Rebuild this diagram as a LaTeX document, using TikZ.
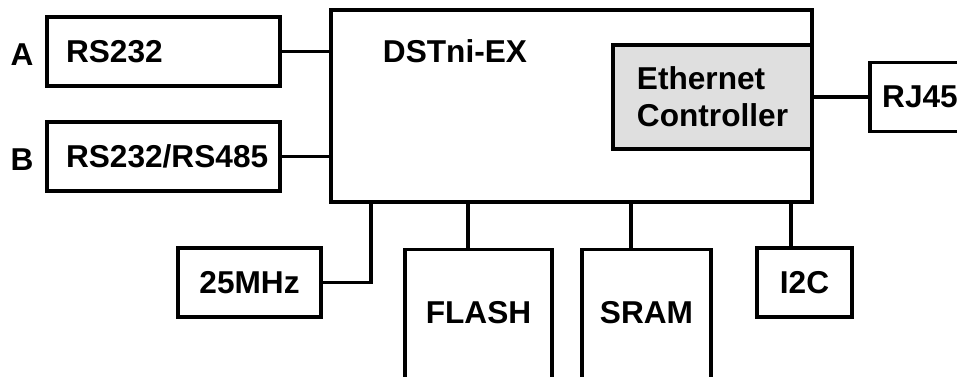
\documentclass[tikz,border=0pt]{standalone}
\usepackage{fontspec}
\setmainfont{Liberation Sans}
\usepackage{tikz}
\usetikzlibrary{positioning, calc}

\begin{document}
\begin{tikzpicture}[
            x=0.02cm, y=-0.02cm,
            every node/.style={font=\bfseries\fontsize{18}{21}\selectfont},
            blk/.style={draw, line width=1.9pt, inner sep=0pt, minimum width=#1, minimum height=1.38cm},
            port/.style={draw, line width=1.9pt, inner xsep=0.38cm, inner ysep=0pt, minimum height=1.38cm, text width=3.9cm, align=left},
            mem/.style={draw, line width=1.9pt, inner sep=0pt, minimum width=#1, anchor=north, text height=1.48cm, text depth=2.6cm},
            wire/.style={line width=1.9pt}
        ]
          \useasboundingbox (0,0) rectangle (957,377);
          \clip (0,0) rectangle (957,377);

          \node[draw, line width=1.9pt, minimum width=9.62cm, minimum height=3.84cm] (dst) at (571.5,106) {};
          \node (dsttxt) at (455,51) {DSTni-EX};
          \node[draw, line width=1.9pt, fill=gray!25, minimum width=3.98cm, minimum height=2.08cm, align=left] (eth) at (712.5,97) {Ethernet\\Controller};

          \node[port] (rsa) at (163.5,51.5) {RS232};
          \node[port] (rsb) at (163.5,156.5) {RS232/RS485};
          \node (lbla) at (22,55) {A};
          \node (lblb) at (22,160) {B};

          \node[blk=2cm] (rj) at (920,97) {RJ45};
          \node[blk=2.86cm] (clk) at (249.5,282.5) {25MHz};
          \node[mem=2.94cm] (flash) at (478.5,248) {FLASH};
          \node[mem=2.58cm] (sram) at (646.5,248) {SRAM};
          \node[blk=1.9cm] (iic) at (804.5,282.5) {I2C};

          \coordinate (clktap) at (371,202);
          \coordinate (flashtap) at (468,202);
          \coordinate (sramtap) at (631,202);
          \coordinate (iictap) at (791,202);

          \draw[wire] (rsa.east) -- (rsa.east -| dst.west);
          \draw[wire] (rsb.east) -- (rsb.east -| dst.west);
          \draw[wire] (eth.east) -- (eth.east -| rj.west);
          \draw[wire] (clk.east) -| (clktap);
          \draw[wire] (flashtap) -- (flashtap |- flash.north);
          \draw[wire] (sramtap) -- (sramtap |- sram.north);
          \draw[wire] (iictap) -- (iictap |- iic.north);
        \end{tikzpicture}
\end{document}
